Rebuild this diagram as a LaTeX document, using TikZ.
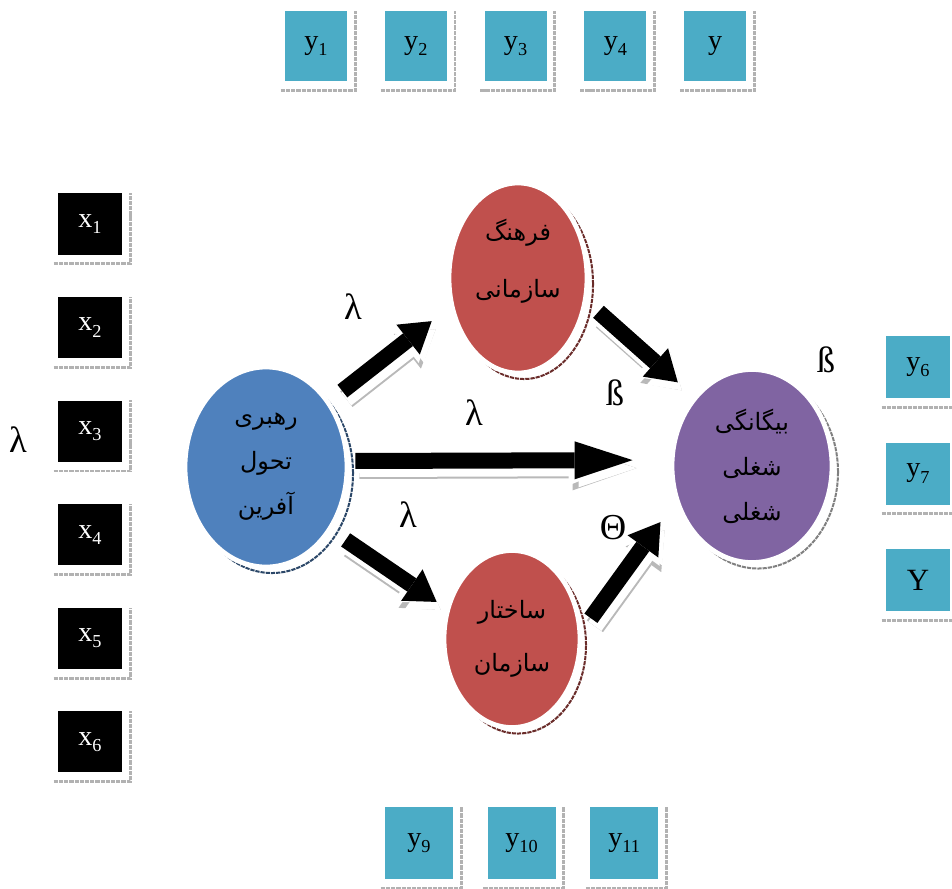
\documentclass[tikz,border=0pt]{standalone}
\usepackage{fontspec}
\setmainfont{Liberation Serif}
\newfontfamily\farsi[Script=Arabic]{DejaVu Sans}
\TeXXeTstate=1
\usetikzlibrary{positioning,shapes.geometric,shadows,arrows.meta}

\definecolor{boxblue}{RGB}{75,172,198}
\definecolor{leadblue}{RGB}{79,129,189}
\definecolor{cultred}{RGB}{192,80,77}
\definecolor{alienpurple}{RGB}{128,100,162}

\newcommand{\ix}[1]{\raisebox{-4.5pt}{\fontsize{13}{13}\selectfont #1}}

\begin{document}
\begin{tikzpicture}[x=0.025cm,y=-0.025cm,
      every node/.style={font=\fontsize{20}{22}\selectfont},
      xbox/.style={fill=black,text=white,inner sep=0pt,
         minimum width=1.6cm,minimum height=1.525cm},
      ybox/.style={fill=boxblue,inner sep=0pt,
         minimum width=1.55cm,minimum height=#1},
      ybox/.default=1.75cm,
      boxshadow/.style={draw=gray!60,line width=0.07cm,
         dash pattern=on 3pt off 0.7pt},
      latent/.style={ellipse,inner sep=0pt,align=center,
         draw=white,line width=0.12cm,
         font=\farsi\fontsize{17}{32}\selectfont,
         drop shadow={shadow xshift=0.15cm,shadow yshift=-0.15cm,opacity=1,
            fill=none,draw=#1,line width=0.05cm,dash pattern=on 3pt off 0.7pt}},
      greek/.style={font=\fontsize{26}{28}\selectfont},
      blockarrow/.style={
         /utils/exec={\pgfmathsetmacro\hl{#1}\pgfmathsetmacro\hlw{#1+0.15}},
         preaction={draw=gray!55,line width=0.5cm,
            -{Triangle[length=\hlw cm,width=1.1cm,line width=0pt]},
            transform canvas={shift={(0.1cm,-0.2cm)}}},
         preaction={draw=white,line width=0.4cm,
            -{Triangle[length=\hl cm,width=0.95cm,line width=0pt]},
            transform canvas={shift={(0.1cm,-0.2cm)}}},
         preaction={draw=white,line width=0.6cm,
            -{Triangle[length=\hlw cm,width=1.25cm,line width=0pt]}},
         draw=black,line width=0.4cm,
         -{Triangle[length=\hl cm,width=0.95cm,line width=0pt]}}
   ]
   \useasboundingbox (0,0) rectangle (952,888);

   % left indicators
   \node[xbox] (x1) at (90,224) {x\ix{1}};
   \node[xbox,below=1.05cm of x1] (x2) {x\ix{2}};
   \node[xbox,below=1.05cm of x2] (x3) {x\ix{3}};
   \node[xbox,below=1.05cm of x3] (x4) {x\ix{4}};
   \node[xbox,below=1.05cm of x4] (x5) {x\ix{5}};
   \node[xbox,below=1.05cm of x5] (x6) {x\ix{6}};
   \node[greek] (lx) at (18,440) {λ};

   % top indicators
   \node[ybox] (ty1) at (316,46) {y\ix{1}};
   \node[ybox,right=0.93cm of ty1] (ty2) {y\ix{2}};
   \node[ybox,right=0.93cm of ty2] (ty3) {y\ix{3}};
   \node[ybox,right=0.93cm of ty3] (ty4) {y\ix{4}};
   \node[ybox,right=0.93cm of ty4] (ty5) {y};

   % right indicators
   \node[ybox=1.55cm,minimum width=1.6cm] (ry6) at (918,367) {y\ix{6}};
   \node[ybox=1.55cm,minimum width=1.6cm,below=1.1cm of ry6] (ry7) {y\ix{7}};
   \node[ybox=1.55cm,minimum width=1.6cm,below=1.1cm of ry7] (ry8)
      {\fontsize{22}{24}\selectfont Y};

   % bottom indicators
   \node[ybox=1.78cm,minimum width=1.7cm] (by9) at (419,843) {y\ix{9}};
   \node[ybox=1.78cm,minimum width=1.7cm,right=0.85cm of by9] (by10) {y\ix{10}};
   \node[ybox=1.78cm,minimum width=1.7cm,right=0.85cm of by10] (by11) {y\ix{11}};

   \foreach \b in {x1,x2,x3,x4,x5,x6,ty1,ty2,ty3,ty4,ty5,ry6,ry7,ry8,by9,by10,by11}
      \draw[boxshadow] ([xshift=-0.1cm,yshift=-0.225cm]\b.south west)
         -| ([xshift=0.2cm]\b.north east);

   % latent variables
   \node[latent=leadblue!55!black,fill=leadblue,
      minimum width=4.05cm,minimum height=5cm] (lead) at (266,467)
      {\beginR رهبری\endR\\\beginR تحول\endR\\\beginR آفرین\endR};
   \node[latent=cultred!55!black,fill=cultred,
      minimum width=3.45cm,minimum height=4.75cm] (cult) at (518,278)
      {\beginR فرهنگ\endR\\[0.3cm]\beginR سازمانی\endR\\[-0.15cm]};
   \node[latent=cultred!55!black,fill=cultred,
      minimum width=3.4cm,minimum height=4.425cm] (strc) at (512,639)
      {\beginR ساختار\endR\\[0.2cm]\beginR سازمان\endR};
   \node[latent=gray,fill=alienpurple,
      minimum width=4cm,minimum height=4.825cm] (alien) at (752,466)
      {\beginR بیگانگی\endR\\\beginR شغلی\endR\\\beginR شغلی\endR};

   % paths
   \draw[blockarrow=0.75,shorten <=0.4cm,shorten >=0.575cm] (lead.46) -- (cult.203);
   \draw[blockarrow=1.45,shorten <=0.15cm,shorten >=0.925cm]
      ([yshift=0.15cm]lead.east) -- ([yshift=0.15cm]alien.west);
   \draw[blockarrow=0.75,shorten <=0.425cm,shorten >=0.275cm] (lead.-44) -- (strc.155);
   \draw[blockarrow=0.75,shorten <=0.375cm,shorten >=0.525cm] (cult.-19) -- (alien.130);
   \draw[blockarrow=0.75,shorten <=0.375cm,shorten >=0.625cm] (strc.7) -- (alien.205);

   \node[greek] (l1) at (353,307) {λ};
   \node[greek] (l2) at (474,413) {λ};
   \node[greek] (l3) at (408,515) {λ};
   \node[greek] (b1) at (615,393) {ß};
   \node[greek] (b2) at (826,360) {ß};
   \node[greek] (th) at (613,528) {Θ};
\end{tikzpicture}
\end{document}
